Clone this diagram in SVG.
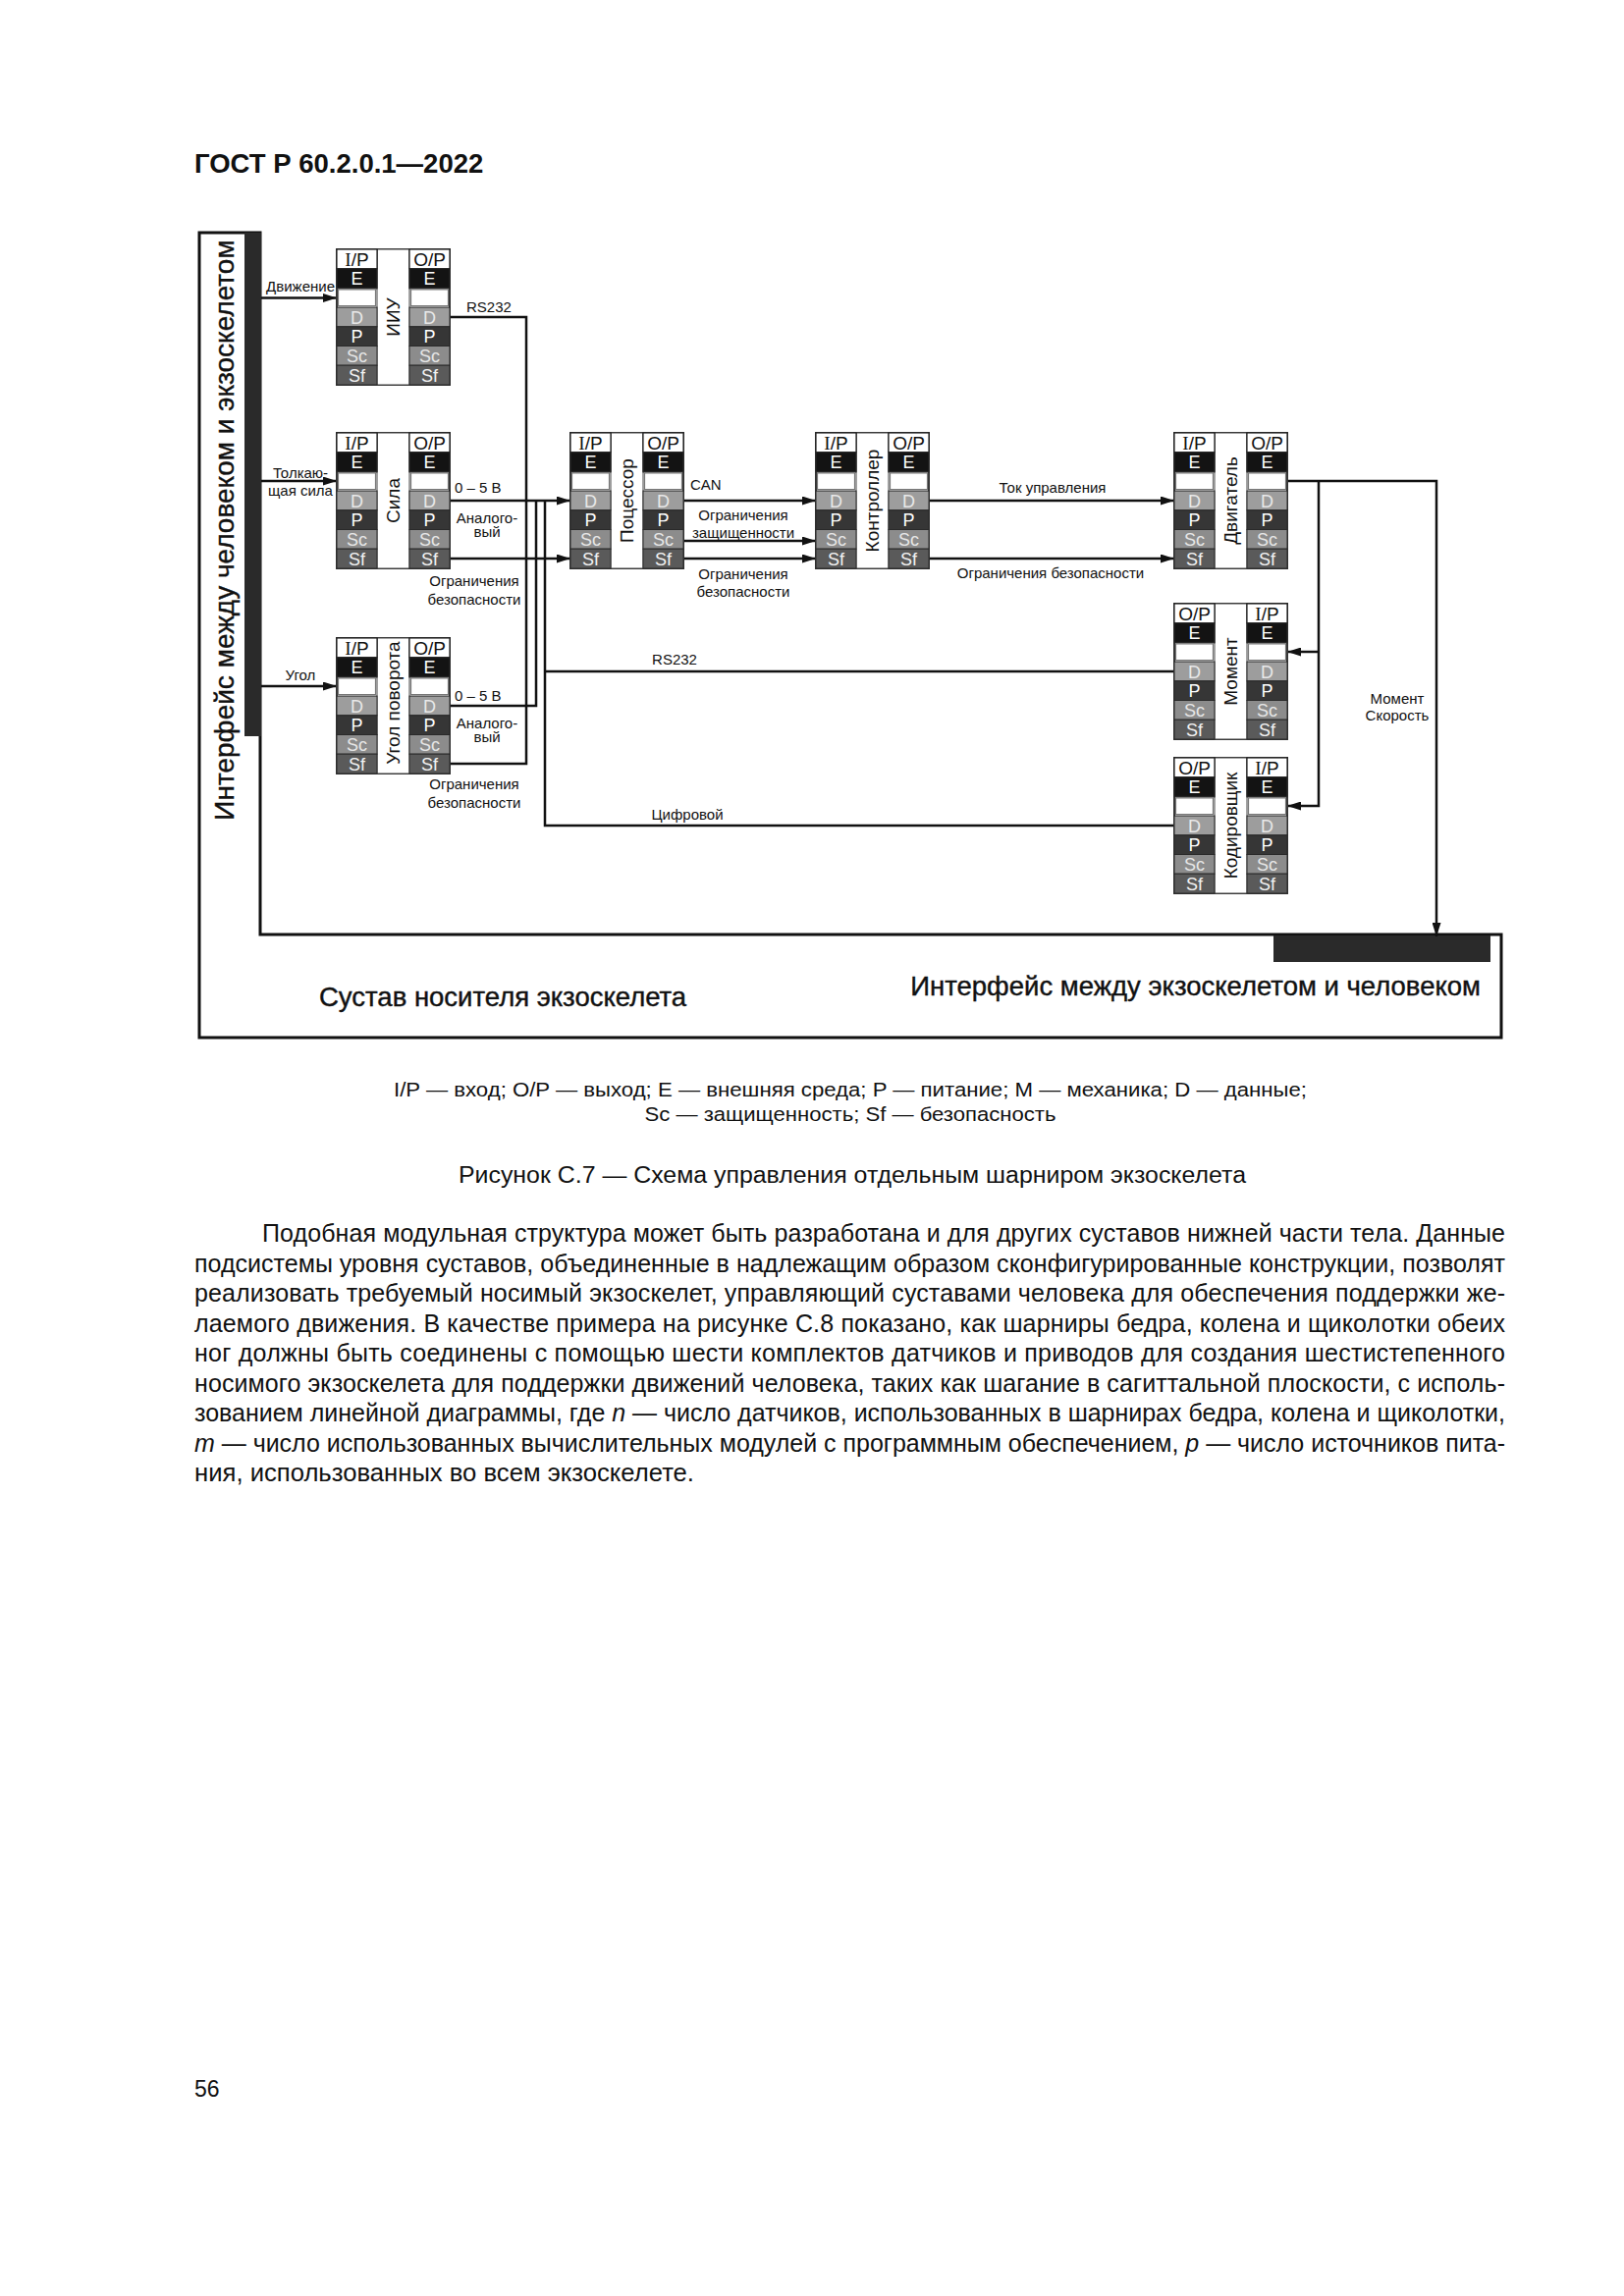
<svg xmlns="http://www.w3.org/2000/svg" xmlns:xlink="http://www.w3.org/1999/xlink" width="1654" height="2339" viewBox="0 0 1654 2339">
<style>
  .sans{font-family:"Liberation Sans",Arial,"DejaVu Sans",sans-serif}
  .lbl{font-family:"Liberation Sans",Arial,sans-serif;font-size:15px;fill:#111}
  .mid{text-anchor:middle}
  .end{text-anchor:end}
  .hd{fill:#fff;stroke:#222;stroke-width:1.2}
  .rE{fill:#131313;stroke:#2a2a2a;stroke-width:1}
  .rW{fill:#fff;stroke:#777;stroke-width:1.2}
  .rD{fill:#9d9d9d;stroke:#2a2a2a;stroke-width:1}
  .rP{fill:#363636;stroke:#2a2a2a;stroke-width:1}
  .rSc{fill:#8c8c8c;stroke:#2a2a2a;stroke-width:1}
  .rSf{fill:#5a5a5a;stroke:#2a2a2a;stroke-width:1}
  .lt{font-family:"Liberation Sans",Arial,sans-serif;font-size:18px;text-anchor:middle}
  .hdt{font-family:"Liberation Sans",Arial,sans-serif;font-size:19px;text-anchor:middle;fill:#111}
  .nbox{fill:#fff;stroke:#333;stroke-width:2}
  .ncol{fill:#fff;stroke:#444;stroke-width:1}
  .nname{font-family:"Liberation Sans",Arial,sans-serif;font-size:19px;text-anchor:middle;fill:#111}
  .conn path{fill:none;stroke:#111;stroke-width:2.5}
  .body{font-family:"Liberation Sans",Arial,sans-serif;font-size:25px;fill:#111}
  .big{font-family:"Liberation Sans",Arial,sans-serif;fill:#111;stroke:#111;stroke-width:0.4}
</style>
<defs>
  <marker id="arr" markerUnits="userSpaceOnUse" markerWidth="14" markerHeight="9" refX="14" refY="4.5" orient="auto">
    <path d="M0,0 L14,4.5 L0,9 Z" fill="#111"/>
  </marker>
  <g id="rows">
    <rect class="rE" x="0" y="19.7" width="41" height="19.7"/>
    <rect class="rW" x="1.5" y="40.9" width="38" height="16.7"/>
    <rect class="rD" x="0" y="59.1" width="41" height="19.7"/>
    <rect class="rP" x="0" y="78.8" width="41" height="19.7"/>
    <rect class="rSc" x="0" y="98.5" width="41" height="19.7"/>
    <rect class="rSf" x="0" y="118.2" width="41" height="19.8"/>
    <text class="lt" x="20.5" y="36" fill="#fff">E</text>
    <text class="lt" x="20.5" y="75.5" fill="#e8e8e8">D</text>
    <text class="lt" x="20.5" y="95" fill="#fff">P</text>
    <text class="lt" x="20.5" y="114.8" fill="#e6e6e6">Sc</text>
    <text class="lt" x="20.5" y="134.5" fill="#f2f2f2">Sf</text>
  </g>
  <g id="colI">
    <rect class="rE" x="0" y="0" width="41" height="40"/>
    <rect class="hd" x="0" y="0" width="41" height="19.7"/>
    <text class="hdt" x="20.5" y="17"><tspan font-family="Liberation Serif">I</tspan>/P</text>
    <use xlink:href="#rows"/>
  </g>
  <g id="colO">
    <rect class="rE" x="0" y="0" width="41" height="40"/>
    <rect class="hd" x="0" y="0" width="41" height="19.7"/>
    <text class="hdt" x="20.5" y="17">O/P</text>
    <use xlink:href="#rows"/>
  </g>
</defs>

<rect width="1654" height="2339" fill="#fff"/>

<text class="sans" x="198" y="176" font-size="27.5" font-weight="bold" fill="#111">ГОСТ Р 60.2.0.1—2022</text>

<!-- frame -->
<g id="frame">
  <path d="M203 237 H265 V952 H1529 V1057 H203 Z" fill="#fff" stroke="#111" stroke-width="3"/>
  <rect x="249" y="237" width="17" height="513" fill="#2a2a2a"/>
  <rect x="1297" y="953" width="221" height="27" fill="#2a2a2a"/>
  <text class="big mid" transform="translate(238 540) rotate(-90)" font-size="28">Интерфейс между человеком и экзоскелетом</text>
  <text class="big" x="325" y="1025" font-size="27.5">Сустав носителя экзоскелета</text>
  <text class="big end" x="1508" y="1014" font-size="27.5">Интерфейс между экзоскелетом и человеком</text>
</g>

<!-- connectors -->
<g id="connectors" class="conn">
  <path d="M266 303.5 H343" marker-end="url(#arr)"/>
  <path d="M266 490 H343" marker-end="url(#arr)"/>
  <path d="M266 699 H343" marker-end="url(#arr)"/>
  <path d="M458 323 H536 V778 H458"/>
  <path d="M458 719 H546 V510"/>
  <path d="M458 510 H581" marker-end="url(#arr)"/>
  <path d="M458 569 H581" marker-end="url(#arr)"/>
  <path d="M555 510 V841 H1196"/>
  <path d="M555 684 H1196"/>
  <path d="M696 510 H831" marker-end="url(#arr)"/>
  <path d="M696 551 H831" marker-end="url(#arr)"/>
  <path d="M696 569 H831" marker-end="url(#arr)"/>
  <path d="M946 510 H1196" marker-end="url(#arr)"/>
  <path d="M946 569 H1196" marker-end="url(#arr)"/>
  <path d="M1311 490 H1463 V954" marker-end="url(#arr)"/>
  <path d="M1343 490 V821 H1311" marker-end="url(#arr)"/>
  <path d="M1343 664 H1311" marker-end="url(#arr)"/>
</g>

<!-- connector labels -->
<g id="labels">
  <text class="lbl end" x="341" y="297">Движение</text>
  <text class="lbl mid" x="306" y="487">Толкаю-</text>
  <text class="lbl mid" x="306" y="505">щая сила</text>
  <text class="lbl mid" x="306" y="693">Угол</text>
  <text class="lbl" x="475" y="318">RS232</text>
  <text class="lbl" x="463" y="502">0 – 5 В</text>
  <text class="lbl mid" x="496" y="533">Аналого-</text>
  <text class="lbl mid" x="496" y="547">вый</text>
  <text class="lbl mid" x="483" y="597">Ограничения</text>
  <text class="lbl mid" x="483" y="616">безопасности</text>
  <text class="lbl" x="463" y="714">0 – 5 В</text>
  <text class="lbl mid" x="496" y="742">Аналого-</text>
  <text class="lbl mid" x="496" y="756">вый</text>
  <text class="lbl mid" x="483" y="804">Ограничения</text>
  <text class="lbl mid" x="483" y="823">безопасности</text>
  <text class="lbl" x="703" y="499">CAN</text>
  <text class="lbl mid" x="757" y="530">Ограничения</text>
  <text class="lbl mid" x="757" y="548">защищенности</text>
  <text class="lbl mid" x="757" y="590">Ограничения</text>
  <text class="lbl mid" x="757" y="608">безопасности</text>
  <text class="lbl mid" x="1072" y="502">Ток управления</text>
  <text class="lbl mid" x="1070" y="589">Ограничения безопасности</text>
  <text class="lbl mid" x="1423" y="717">Момент</text>
  <text class="lbl mid" x="1423" y="734">Скорость</text>
  <text class="lbl mid" x="687" y="677">RS232</text>
  <text class="lbl mid" x="700" y="835">Цифровой</text>
</g>

<!-- nodes -->
<g id="node-iiu">
  <rect class="nbox" x="343" y="254" width="115" height="138"/>
  <rect class="ncol" x="384" y="254" width="33" height="138"/>
  <use xlink:href="#colI" x="343" y="254"/>
  <use xlink:href="#colO" x="417" y="254"/>
  <text class="nname" transform="translate(407 323) rotate(-90)">ИИУ</text>
</g>
<g id="node-sila">
  <rect class="nbox" x="343" y="441" width="115" height="138"/>
  <rect class="ncol" x="384" y="441" width="33" height="138"/>
  <use xlink:href="#colI" x="343" y="441"/>
  <use xlink:href="#colO" x="417" y="441"/>
  <text class="nname" transform="translate(407 510) rotate(-90)">Сила</text>
</g>
<g id="node-ugol">
  <rect class="nbox" x="343" y="650" width="115" height="138"/>
  <rect class="ncol" x="384" y="650" width="33" height="138"/>
  <use xlink:href="#colI" x="343" y="650"/>
  <use xlink:href="#colO" x="417" y="650"/>
  <text class="nname" transform="translate(407 716) rotate(-90)">Угол поворота</text>
</g>
<g id="node-processor">
  <rect class="nbox" x="581" y="441" width="115" height="138"/>
  <rect class="ncol" x="622" y="441" width="33" height="138"/>
  <use xlink:href="#colI" x="581" y="441"/>
  <use xlink:href="#colO" x="655" y="441"/>
  <text class="nname" transform="translate(645 510) rotate(-90)">Поцессор</text>
</g>
<g id="node-controller">
  <rect class="nbox" x="831" y="441" width="115" height="138"/>
  <rect class="ncol" x="872" y="441" width="33" height="138"/>
  <use xlink:href="#colI" x="831" y="441"/>
  <use xlink:href="#colO" x="905" y="441"/>
  <text class="nname" transform="translate(895 510) rotate(-90)">Контроллер</text>
</g>
<g id="node-motor">
  <rect class="nbox" x="1196" y="441" width="115" height="138"/>
  <rect class="ncol" x="1237" y="441" width="33" height="138"/>
  <use xlink:href="#colI" x="1196" y="441"/>
  <use xlink:href="#colO" x="1270" y="441"/>
  <text class="nname" transform="translate(1260 510) rotate(-90)">Двигатель</text>
</g>
<g id="node-moment">
  <rect class="nbox" x="1196" y="615" width="115" height="138"/>
  <rect class="ncol" x="1237" y="615" width="33" height="138"/>
  <use xlink:href="#colO" x="1196" y="615"/>
  <use xlink:href="#colI" x="1270" y="615"/>
  <text class="nname" transform="translate(1260 684) rotate(-90)">Момент</text>
</g>
<g id="node-encoder">
  <rect class="nbox" x="1196" y="772" width="115" height="138"/>
  <rect class="ncol" x="1237" y="772" width="33" height="138"/>
  <use xlink:href="#colO" x="1196" y="772"/>
  <use xlink:href="#colI" x="1270" y="772"/>
  <text class="nname" transform="translate(1260 841) rotate(-90)">Кодировщик</text>
</g>

<!-- captions -->
<text class="sans mid" x="866" y="1117" font-size="20.5" fill="#111" textLength="930" lengthAdjust="spacingAndGlyphs">I/P — вход; O/P — выход; E — внешняя среда; P — питание; M — механика; D — данные;</text>
<text class="sans mid" x="866" y="1142" font-size="20.5" fill="#111" textLength="419" lengthAdjust="spacingAndGlyphs">Sc — защищенность; Sf — безопасность</text>
<text class="sans mid" x="868" y="1205" font-size="23" fill="#111" textLength="802" lengthAdjust="spacingAndGlyphs">Рисунок С.7 — Схема управления отдельным шарниром экзоскелета</text>

<!-- body -->
<g class="body">
  <text x="267" y="1265" textLength="1266" lengthAdjust="spacing">Подобная модульная структура может быть разработана и для других суставов нижней части тела. Данные</text>
  <text x="198" y="1295.5" textLength="1335" lengthAdjust="spacing">подсистемы уровня суставов, объединенные в надлежащим образом сконфигурированные конструкции, позволят</text>
  <text x="198" y="1326" textLength="1335" lengthAdjust="spacing">реализовать требуемый носимый экзоскелет, управляющий суставами человека для обеспечения поддержки же-</text>
  <text x="198" y="1356.5" textLength="1335" lengthAdjust="spacing">лаемого движения. В качестве примера на рисунке С.8 показано, как шарниры бедра, колена и щиколотки обеих</text>
  <text x="198" y="1387" textLength="1335" lengthAdjust="spacing">ног должны быть соединены с помощью шести комплектов датчиков и приводов для создания шестистепенного</text>
  <text x="198" y="1417.5" textLength="1335" lengthAdjust="spacing">носимого экзоскелета для поддержки движений человека, таких как шагание в сагиттальной плоскости, с исполь-</text>
  <text x="198" y="1448" textLength="1335" lengthAdjust="spacing">зованием линейной диаграммы, где <tspan font-style="italic">n</tspan> — число датчиков, использованных в шарнирах бедра, колена и щиколотки,</text>
  <text x="198" y="1478.5" textLength="1335" lengthAdjust="spacing"><tspan font-style="italic">m</tspan> — число использованных вычислительных модулей с программным обеспечением, <tspan font-style="italic">p</tspan> — число источников пита-</text>
  <text x="198" y="1509" textLength="509" lengthAdjust="spacingAndGlyphs">ния, использованных во всем экзоскелете.</text>
</g>

<text class="sans" x="198" y="2136" font-size="23" fill="#111">56</text>
</svg>
